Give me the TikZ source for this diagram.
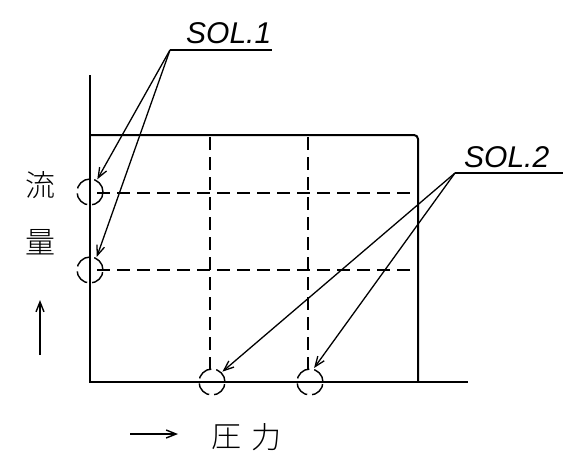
\documentclass[tikz,border=0pt]{standalone}
\usepackage{fontspec}
\newfontfamily\cjk{Noto Sans CJK JP Light}
\setmainfont{Liberation Sans}
\usetikzlibrary{arrows.meta}
\begin{document}
\begin{tikzpicture}[x=1pt,y=-1pt,
  solid line/.style={line width=2pt},
  grid dash/.style={line width=1.6pt, dash pattern=on 13pt off 7pt},
  mark circle/.style={circle, draw, line width=1.4pt, minimum size=26pt, inner sep=0pt, dash pattern=on 16pt off 5pt},
  leader/.style={line width=1.3pt},
  leader arrow/.style={leader, -{Straight Barb[length=10pt,width=8pt]}, shorten >=1pt},
  sollabel/.style={font=\itshape\fontsize{30}{30}\selectfont, inner sep=0pt, anchor=south west},
  jp/.style={font=\cjk\fontsize{30}{30}\selectfont, inner sep=0pt}]
\useasboundingbox (0,0) rectangle (563,453);

% axes
\coordinate (yTop) at (90,75);
\coordinate (org) at (90,382);
\coordinate (xEnd) at (468,382);
\draw[solid line] (yTop) -- (org) -- (xEnd);

% frame top and right
\coordinate (fTL) at (90,135);
\coordinate (fTR) at (418,135);
\coordinate (fBR) at (418,381);
\draw[solid line, rounded corners=4pt] (fTL) -- (fTR) -- (fBR);

% dashed grid
\coordinate (v1t) at (210,137); \coordinate (v1b) at (210,372);
\coordinate (v2t) at (308,137); \coordinate (v2b) at (308,372);
\coordinate (h1l) at (97,193); \coordinate (h1r) at (418,193);
\coordinate (h2l) at (97,270); \coordinate (h2r) at (418,270);
\draw[grid dash] (v1t) -- (v1b);
\draw[grid dash] (v2t) -- (v2b);
\draw[grid dash] (h1l) -- (h1r);
\draw[grid dash] (h2l) -- (h2r);

% circles
\node[mark circle] (c1) at (90,192) {};
\node[mark circle] (c2) at (90,270) {};
\node[mark circle] (c3) at (212,382) {};
\node[mark circle] (c4) at (310,382) {};

% SOL.1
\node[sollabel] (s1) at (186,44) {SOL.1};
\coordinate (s1a) at (170,50);
\coordinate (s1b) at (272,50);
\draw[leader] (s1a) -- (s1b);
\draw[leader arrow] (s1a) -- (c1.60);
\draw[leader arrow] (s1a) -- (c2.62);

% SOL.2
\node[sollabel] (s2) at (464,168) {SOL.2};
\coordinate (s2a) at (455,173);
\coordinate (s2b) at (563,173);
\draw[leader] (s2a) -- (s2b);
\draw[leader arrow] (s2a) -- (c3.45);
\draw[leader arrow] (s2a) -- (c4.75);

% axis labels
\node[jp] (ry) at (41,185) {流};
\node[jp] (ryo) at (41,242) {量};
\coordinate (upS) at (40,355);
\coordinate (upE) at (40,300);
\draw[line width=1.4pt, -{Straight Barb[length=10pt,width=8pt]}] (upS) -- (upE);
\coordinate (rS) at (130,434);
\coordinate (rE) at (178,434);
\draw[line width=1.4pt, -{Straight Barb[length=10pt,width=8pt]}] (rS) -- (rE);
\node[jp] (atsu) at (226,437) {圧};
\node[jp] (ryoku) at (266,437) {力};
\end{tikzpicture}
\end{document}
